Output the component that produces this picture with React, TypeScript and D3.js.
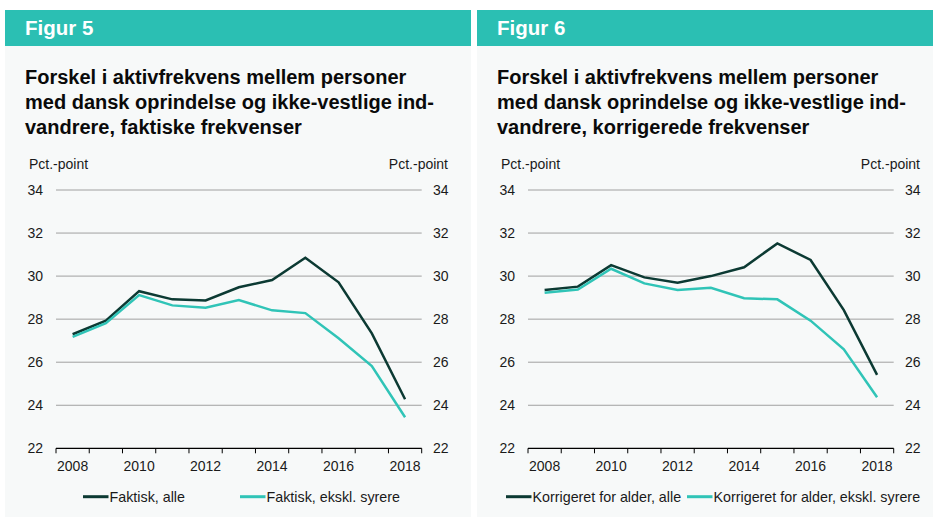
import { useEffect, useRef } from "react";
import * as d3 from "d3";

const years = [2008, 2009, 2010, 2011, 2012, 2013, 2014, 2015, 2016, 2017, 2018];
const yTicks = [22, 24, 26, 28, 30, 32, 34];

const faktiskAlle = [27.3, 27.93, 29.3, 28.92, 28.87, 29.48, 29.82, 30.85, 29.71, 27.34, 24.28];
const faktiskEkskl = [27.18, 27.81, 29.12, 28.64, 28.53, 28.89, 28.41, 28.28, 27.11, 25.82, 23.44];

const korrAlle = [29.35, 29.51, 30.51, 29.94, 29.69, 30.0, 30.41, 31.52, 30.75, 28.42, 25.41];
const korrEkskl = [29.23, 29.38, 30.34, 29.66, 29.35, 29.46, 28.97, 28.92, 27.93, 26.6, 24.37];

const FONT = "Arial, 'Liberation Sans', sans-serif";
const TEAL = "#2bbfb3";
const DARK = "#0c3a33";
const LINE_TEAL = "#30c4b7";

type Panel = {
  left: number;
  right: number;
  figur: string;
  title: string[];
  series: { name: string; values: number[]; color: string }[];
  legendX: number[];
};

const panels: Panel[] = [
  {
    left: 5,
    right: 471,
    figur: "Figur 5",
    title: [
      "Forskel i aktivfrekvens mellem personer",
      "med dansk oprindelse og ikke-vestlige ind-",
      "vandrere, faktiske frekvenser",
    ],
    series: [
      { name: "Faktisk, alle", values: faktiskAlle, color: DARK },
      { name: "Faktisk, ekskl. syrere", values: faktiskEkskl, color: LINE_TEAL },
    ],
    legendX: [83, 240],
  },
  {
    left: 477,
    right: 933,
    figur: "Figur 6",
    title: [
      "Forskel i aktivfrekvens mellem personer",
      "med dansk oprindelse og ikke-vestlige ind-",
      "vandrere, korrigerede frekvenser",
    ],
    series: [
      { name: "Korrigeret for alder, alle", values: korrAlle, color: DARK },
      { name: "Korrigeret for alder, ekskl. syrere", values: korrEkskl, color: LINE_TEAL },
    ],
    legendX: [506, 687],
  },
];

export default function App() {
  const ref = useRef<SVGSVGElement>(null);

  useEffect(() => {
    document.body.style.margin = "0";
    if (!ref.current) return;
    const svg = d3.select(ref.current);
    svg.selectAll("*").remove();

    panels.forEach((p) => {
      const g = svg.append("g");
      const off = p.left - 5;

      // background + header
      g.append("rect")
        .attr("x", p.left)
        .attr("y", 46)
        .attr("width", p.right - p.left)
        .attr("height", 517 - 46)
        .attr("fill", "#f7f9f9");
      g.append("rect")
        .attr("x", p.left)
        .attr("y", 10)
        .attr("width", p.right - p.left)
        .attr("height", 36)
        .attr("fill", TEAL);
      g.append("text")
        .attr("x", off + 25)
        .attr("y", 35)
        .attr("fill", "#fff")
        .attr("font-family", FONT)
        .attr("font-weight", "bold")
        .attr("font-size", 20.5)
        .text(p.figur);

      g.selectAll("text.title")
        .data(p.title)
        .join("text")
        .attr("class", "title")
        .attr("x", off + 25)
        .attr("y", (_, i) => 83.5 + i * 25.3)
        .attr("fill", "#0a0a0a")
        .attr("font-family", FONT)
        .attr("font-weight", "bold")
        .attr("font-size", 20)
        .text((d) => d);

      const x = d3
        .scaleBand<number>()
        .domain(years)
        .range([off + 56, off + 421.7]);
      const y = d3.scaleLinear().domain([22, 34]).range([448.3, 190]);

      // gridlines
      g.append("g")
        .selectAll("line")
        .data(yTicks.filter((t) => t !== 22))
        .join("line")
        .attr("x1", x.range()[0])
        .attr("x2", x.range()[1])
        .attr("y1", (d) => y(d))
        .attr("y2", (d) => y(d))
        .attr("stroke", "#a0a0a0")
        .attr("stroke-width", 1);

      // y labels
      const yl = (anchor: string, xx: number) =>
        g
          .append("g")
          .selectAll("text")
          .data(yTicks)
          .join("text")
          .attr("x", xx)
          .attr("y", (d) => y(d))
          .attr("dy", "0.36em")
          .attr("text-anchor", anchor)
          .attr("font-family", FONT)
          .attr("font-size", 14)
          .attr("fill", "#1a1a1a")
          .text((d) => d);
      yl("end", off + 43);
      yl("start", off + 433);

      g.append("text")
        .attr("x", off + 29)
        .attr("y", 169)
        .attr("font-family", FONT)
        .attr("font-size", 14)
        .attr("fill", "#1a1a1a")
        .text("Pct.-point");
      g.append("text")
        .attr("x", off + 448)
        .attr("y", 169)
        .attr("text-anchor", "end")
        .attr("font-family", FONT)
        .attr("font-size", 14)
        .attr("fill", "#1a1a1a")
        .text("Pct.-point");

      // x axis
      g.append("line")
        .attr("x1", x.range()[0])
        .attr("x2", x.range()[1])
        .attr("y1", y(22))
        .attr("y2", y(22))
        .attr("stroke", "#000")
        .attr("stroke-width", 1.2);
      const tickPos = years.map((d) => x(d) as number).concat([x.range()[1]]);
      g.append("g")
        .selectAll("line")
        .data(tickPos)
        .join("line")
        .attr("x1", (d) => d)
        .attr("x2", (d) => d)
        .attr("y1", y(22))
        .attr("y2", y(22) + 5)
        .attr("stroke", "#000")
        .attr("stroke-width", 1);
      g.append("g")
        .selectAll("text")
        .data(years.filter((d) => d % 2 === 0))
        .join("text")
        .attr("x", (d) => (x(d) as number) + x.bandwidth() / 2)
        .attr("y", 471)
        .attr("text-anchor", "middle")
        .attr("font-family", FONT)
        .attr("font-size", 14)
        .attr("fill", "#1a1a1a")
        .text((d) => d);

      // lines
      const line = d3
        .line<number>()
        .x((_, i) => (x(years[i]) as number) + x.bandwidth() / 2)
        .y((d) => y(d));
      p.series.forEach((s) => {
        g.append("path")
          .attr("d", line(s.values))
          .attr("fill", "none")
          .attr("stroke", s.color)
          .attr("stroke-width", 2.5)
          .attr("stroke-linejoin", "miter");
      });

      // legend
      p.series.forEach((s, i) => {
        const lx = p.legendX[i];
        g.append("line")
          .attr("x1", lx)
          .attr("x2", lx + 25.5)
          .attr("y1", 496.7)
          .attr("y2", 496.7)
          .attr("stroke", s.color)
          .attr("stroke-width", 3);
        g.append("text")
          .attr("x", lx + 26.5)
          .attr("y", 501.5)
          .attr("font-family", FONT)
          .attr("font-size", 14.3)
          .attr("fill", "#1a1a1a")
          .text(s.name);
      });
    });
  }, []);

  return <svg ref={ref} width={933} height={517} style={{ display: "block", background: "#fff" }} />;
}
